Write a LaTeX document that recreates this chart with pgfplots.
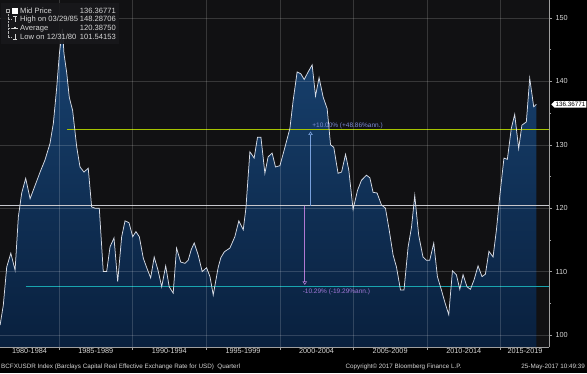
\documentclass[border=0pt]{standalone}
\usepackage{fontspec}
\setmainfont{Liberation Sans}
\usepackage{pgfplots}
\usepackage{pgfplotstable}
\pgfplotsset{compat=1.18}
\usetikzlibrary{arrows.meta,shapes.symbols}
\definecolor{bgplot}{RGB}{17,17,19}
\definecolor{fillTop}{RGB}{24,66,112}
\definecolor{fillBot}{RGB}{9,32,62}
\definecolor{lineW}{RGB}{215,220,230}
\definecolor{avgC}{RGB}{200,200,205}
\definecolor{plusC}{RGB}{165,195,0}
\definecolor{cyanC}{RGB}{25,165,175}
\definecolor{upC}{RGB}{120,160,220}
\definecolor{dnC}{RGB}{175,120,210}
\definecolor{upT}{RGB}{125,140,215}
\definecolor{dnT}{RGB}{160,120,215}
\definecolor{txtC}{RGB}{215,215,215}
\definecolor{legbg}{RGB}{24,24,27}

\pgfplotstableread{
x y
1981.00 101.54
1981.22 104.7
1981.45 110.7
1981.73 112.9
1982.02 110.2
1982.24 118.6
1982.47 122.4
1982.74 124.7
1983.04 121.5
1983.38 123.6
1983.72 125.7
1984.05 127.6
1984.39 130.2
1984.62 133.4
1984.85 139.1
1985.03 144.4
1985.24 148.29
1985.34 144.4
1985.53 141.3
1985.70 137.5
1985.93 135.4
1986.21 129.6
1986.43 126.5
1986.70 125.7
1986.99 126.3
1987.22 120.2
1987.45 120.0
1987.74 120.0
1988.01 110.0
1988.24 110.0
1988.47 113.9
1988.74 115.3
1988.99 108.4
1989.26 115.5
1989.49 118.0
1989.76 117.7
1990.01 115.5
1990.23 116.3
1990.46 115.5
1990.73 112.1
1990.98 110.5
1991.23 109.0
1991.47 112.3
1991.73 110.2
1991.98 107.6
1992.25 110.9
1992.49 107.6
1992.76 106.6
1992.99 113.7
1993.27 111.5
1993.56 111.3
1993.78 111.8
1993.99 113.5
1994.19 114.5
1994.46 112.6
1994.73 110.0
1995.03 110.6
1995.26 109.2
1995.48 106.3
1995.82 110.7
1996.00 112.2
1996.23 113.1
1996.41 113.4
1996.61 113.7
1996.95 115.5
1997.22 118.0
1997.52 116.6
1997.70 120.0
1997.97 128.9
1998.26 127.9
1998.49 131.2
1998.72 131.2
1998.99 125.5
1999.21 128.1
1999.48 128.7
1999.71 126.5
2000.01 126.7
2000.35 129.6
2000.69 132.6
2000.91 137.0
2001.18 141.5
2001.43 141.2
2001.66 140.3
2001.93 141.5
2002.20 142.6
2002.43 137.7
2002.67 140.6
2002.95 137.5
2003.22 135.7
2003.45 130.0
2003.67 129.6
2003.96 125.5
2004.20 125.7
2004.47 128.5
2004.69 126.0
2004.98 119.8
2005.28 122.8
2005.55 124.4
2005.89 125.2
2006.12 124.8
2006.34 122.5
2006.61 122.4
2006.91 120.5
2007.18 120.0
2007.43 116.6
2007.70 112.6
2007.93 110.7
2008.20 107.1
2008.44 107.1
2008.72 113.9
2008.95 117.0
2009.17 122.0
2009.44 115.7
2009.73 112.3
2009.96 111.8
2010.19 111.8
2010.46 114.5
2010.71 109.2
2010.98 107.1
2011.21 105.2
2011.48 103.2
2011.73 110.1
2012.00 109.5
2012.23 107.2
2012.45 109.5
2012.72 107.6
2012.95 107.2
2013.20 108.7
2013.47 110.9
2013.74 109.2
2013.97 109.6
2014.21 113.2
2014.49 112.3
2014.72 116.6
2014.94 121.8
2015.23 127.9
2015.46 127.7
2015.73 132.6
2015.96 134.8
2016.23 129.4
2016.45 133.1
2016.75 133.6
2016.98 140.5
2017.25 136.0
2017.43 136.37
}\bcfx

\begin{document}
\begin{tikzpicture}[x=1pt,y=1pt]
\fill[black] (0,0) rectangle (587,373);
\useasboundingbox (0,0) rectangle (587,373);
\begin{axis}[
  at={(0pt,26pt)}, anchor=south west,
  width=549pt, height=347pt, scale only axis,
  xmin=1980.995, xmax=2018.29, ymin=98.1, ymax=152.84,
  axis background/.style={fill=bgplot},
  axis x line*=bottom, axis y line*=right,
  axis line style={draw=gray!75, line width=0.6pt},
  tick style={draw=gray!75, line width=0.5pt},
  tick align=outside,
  major tick length=3pt, minor tick length=2pt,
  xtick={1985,1990,...,2015},
  xticklabels={},
  extra x ticks={1983.0,1987.5,1992.5,1997.5,2002.5,2007.5,2012.5,2016.66},
  extra x tick labels={\mbox{1980-1984},\mbox{1985-1989},\mbox{1990-1994},\mbox{1995-1999},\mbox{2000-2004},\mbox{2005-2009},\mbox{2010-2014},\mbox{2015-2019}},
  extra x tick style={major tick length=0pt, grid=none},
  ytick={100,110,...,150}, minor ytick={105,115,...,145},
  yticklabel pos=right,
  grid=major,
  major grid style={draw=white, opacity=0.16, line width=0.5pt},
  ticklabel style={font=\fontsize{7.3}{8}\selectfont, text=txtC},
  xticklabel style={inner sep=1pt},
  /pgf/number format/assume math mode=true,
  axis on top,
]
\addplot[draw=none, top color=fillTop, bottom color=fillBot] table[x=x,y=y] {\bcfx}
  -- (axis cs:2017.43,98.1) -- (axis cs:1980.995,98.1) -- cycle;
\addplot[draw=avgC, line width=0.9pt] coordinates {(1980.995,120.3875) (2018.29,120.3875)};
\addplot[draw=plusC, line width=1.2pt] coordinates {(1985.53,132.43) (2018.29,132.43)};
\addplot[draw=cyanC, line width=1.3pt] coordinates {(1982.74,107.6) (2018.29,107.6)};
\addplot[draw=lineW, line width=0.75pt] table[x=x,y=y] {\bcfx};
\draw[upC, line width=0.6pt, -{Triangle[open, length=3.5pt, width=4.5pt]}] (axis cs:2002.09,120.39) -- (axis cs:2002.09,132.1);
\draw[dnC, line width=0.6pt, -{Triangle[open, length=3.5pt, width=4.5pt]}] (axis cs:2001.70,120.39) -- (axis cs:2001.70,107.9);
\node[anchor=west, text=upT, font=\fontsize{6.5}{7}\selectfont, inner sep=0pt] at (axis cs:2002.2,132.95) {+10.00\% (+48.86\%ann.)};
\node[anchor=west, text=dnT, font=\fontsize{6.5}{7}\selectfont, inner sep=0pt] at (axis cs:2001.55,106.75) {-10.29\% (-19.29\%ann.)};
\coordinate (lastv) at (axis cs:2018.29,136.37);
\end{axis}
% value box
\node[signal, signal to=west, fill=white, text=black, inner sep=1pt, anchor=west,
      font=\fontsize{6.3}{7}\selectfont] at ([xshift=2pt]lastv) {136.36771};
% legend box
\fill[legbg, opacity=0.9] (1,329) rectangle (119,370);
\begin{scope}[font=\fontsize{7.6}{8}\selectfont, text=txtC]
\draw[gray!70, line width=0.4pt] (6.5,360.5) rectangle (9.5,363.5);
\draw[gray!60, densely dotted, line width=0.4pt] (8,360.5) -- (8,336);
\foreach \yy in {353.7,344.7,336} {\draw[gray!60, densely dotted, line width=0.4pt] (8,\yy) -- (11,\yy);}
\fill[white] (12,359.2) rectangle (17.5,364.8);
\draw[txtC, line width=0.5pt] (12.8,356.5) -- (16.8,356.5) (14.8,356.5) -- (14.8,351);
\draw[txtC, line width=0.5pt] (12,344.7) -- (18,344.7);
\fill[txtC] (14.2,343.7) rectangle (16.2,345.7);
\draw[txtC, line width=0.5pt] (14.8,339) -- (14.8,333.5) (12.8,333.5) -- (16.8,333.5);
\node[anchor=west, inner sep=0pt] at (20,362) {Mid Price};
\node[anchor=west, inner sep=0pt] at (20,353.7) {High on 03/29/85};
\node[anchor=west, inner sep=0pt] at (20,344.7) {Average};
\node[anchor=west, inner sep=0pt] at (20,336) {Low on 12/31/80};
\node[anchor=east, inner sep=0pt] at (116,362) {136.36771};
\node[anchor=east, inner sep=0pt] at (116,353.7) {148.28706};
\node[anchor=east, inner sep=0pt] at (116,344.7) {120.38750};
\node[anchor=east, inner sep=0pt] at (116,336) {101.54153};
\end{scope}
% footer
\begin{scope}[font=\fontsize{6.3}{7}\selectfont, text=txtC]
\node[anchor=west, inner sep=0pt] at (1,6) {BCFXUSDR Index (Barclays Capital Real Effective Exchange Rate for USD)\ \ Quarterl};
\node[inner sep=0pt] at (403.5,6) {Copyright\textcopyright{} 2017 Bloomberg Finance L.P.};
\node[anchor=east, inner sep=0pt] at (585,6) {25-May-2017 10:49:39};
\end{scope}
\end{tikzpicture}
\end{document}
